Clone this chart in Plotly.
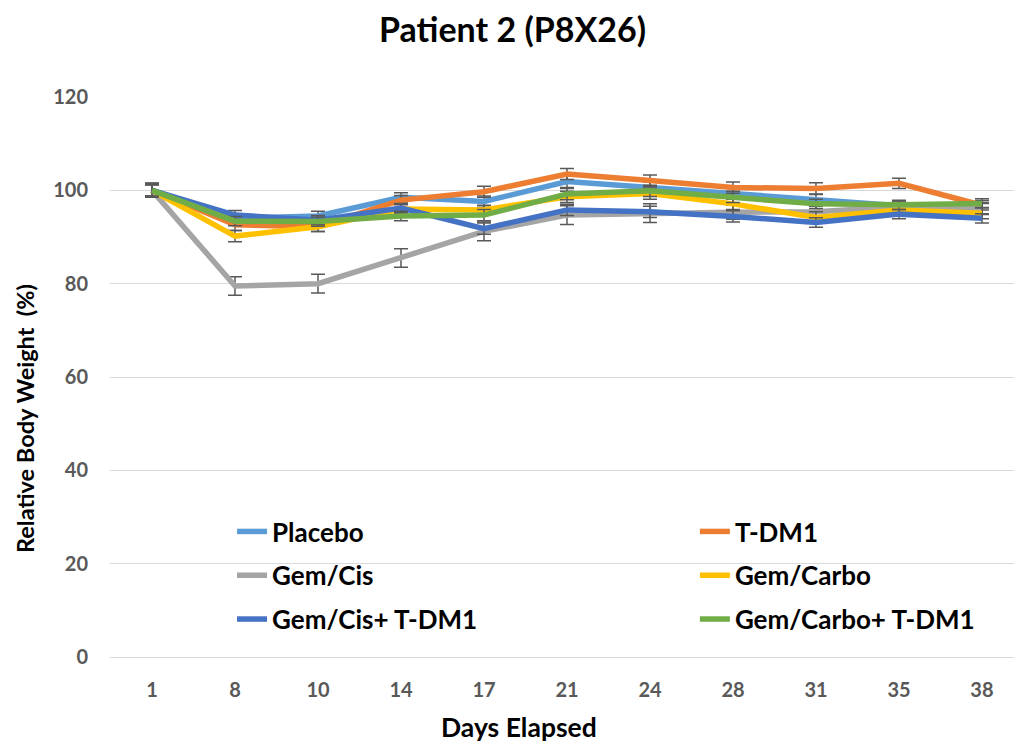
import plotly.graph_objects as go

days = ["1", "8", "10", "14", "17", "21", "24", "28", "31", "35", "38"]

placebo     = [100.0, 94.0, 94.5, 98.5, 97.6, 101.9, 100.6, 99.3, 97.9, 96.7, 96.2]
tdm1        = [100.0, 92.6, 92.2, 97.9, 99.7, 103.5, 102.1, 100.6, 100.4, 101.5, 96.8]
gemcis      = [100.0, 79.5, 80.0, 85.5, 91.2, 94.7, 95.1, 95.3, 95.4, 96.5, 96.0]
gemcarbo    = [100.0, 90.2, 92.2, 96.0, 95.8, 98.6, 99.3, 97.1, 94.2, 95.8, 95.1]
gemcis_tdm1 = [100.0, 94.7, 93.6, 96.2, 91.8, 95.8, 95.4, 94.4, 93.1, 94.9, 94.0]
gemcarbo_tdm1 = [100.0, 93.4, 93.3, 94.5, 94.7, 99.2, 99.9, 98.6, 97.1, 96.9, 97.2]

err_placebo = [1.2, 1.0, 1.0, 1.0, 1.2, 1.3, 1.2, 1.2, 1.2, 1.0, 1.2]
err_tdm1 = [1.5, 1.2, 1.0, 1.0, 1.2, 1.2, 1.2, 1.2, 1.2, 1.1, 1.0]
err_gemcis = [1.5, 2.0, 2.0, 2.0, 2.0, 2.0, 2.0, 1.5, 1.2, 1.2, 1.2]
err_gemcarbo = [1.5, 1.2, 1.0, 1.0, 1.0, 1.2, 1.2, 1.2, 1.2, 1.2, 1.2]
err_gemcis_tdm1 = [1.2, 1.0, 1.0, 1.0, 1.2, 1.2, 1.2, 1.2, 1.0, 1.0, 1.0]
err_gemcarbo_tdm1 = [1.2, 1.0, 1.0, 1.0, 1.2, 1.2, 1.2, 1.2, 1.0, 1.0, 1.0]

names = ["Placebo", "T-DM1", "Gem/Cis", "Gem/Carbo", "Gem/Cis+ T-DM1", "Gem/Carbo+ T-DM1"]
series = [placebo, tdm1, gemcis, gemcarbo, gemcis_tdm1, gemcarbo_tdm1]
errors = [err_placebo, err_tdm1, err_gemcis, err_gemcarbo, err_gemcis_tdm1, err_gemcarbo_tdm1]
colors = ["#5B9BD5", "#ED7D31", "#A5A5A5", "#FFC000", "#4472C4", "#70AD47"]
legends = ["legend", "legend2", "legend", "legend2", "legend", "legend2"]

title_text = "Patient 2 (P8X26)"
x_title = "Days Elapsed"
y_title = "Relative Body Weight  (%)"

FONT = "Lato"

fig = go.Figure()
for n, s, e, c, lg in zip(names, series, errors, colors, legends):
    fig.add_trace(go.Scatter(
        x=days, y=s, name=n, mode="lines",
        line=dict(color=c, width=5.5),
        error_y=dict(type="data", array=e, visible=True, color="#595959",
                     thickness=1.5, width=7),
        legend=lg, legendgroup=n,
    ))

legend_common = dict(
    bgcolor="rgba(0,0,0,0)", font=dict(family=FONT, size=26, color="black", weight="bold"),
    tracegroupgap=7, orientation="v", xanchor="left", yanchor="top",
    itemwidth=30,
)

fig.update_layout(
    width=1014, height=744,
    margin=dict(l=110, r=0, t=97, b=87),
    paper_bgcolor="white", plot_bgcolor="white",
    showlegend=True,
    legend=dict(x=0.135, y=0.266, **legend_common),
    legend2=dict(x=0.647, y=0.266, **legend_common),
    xaxis=dict(
        type="category", range=[-0.506, 10.386],
        showgrid=False, zeroline=False, showline=False, ticks="",
        tickfont=dict(family=FONT, size=20, color="#595959", weight="bold"),
        ticklabelstandoff=19,
    ),
    yaxis=dict(
        range=[0, 120], dtick=20, showgrid=True, gridcolor="#D9D9D9", gridwidth=1.3,
        zeroline=True, zerolinecolor="#D9D9D9", zerolinewidth=1.3,
        showline=False, ticks="",
        tickfont=dict(family=FONT, size=20, color="#595959", weight="bold"),
        ticklabelstandoff=21,
    ),
    annotations=[
        dict(text="<b>" + title_text + "</b>", xref="paper", yref="paper",
             x=0.4447, y=1.123, xanchor="center", yanchor="middle", showarrow=False,
             font=dict(family=FONT, size=34, color="black")),
        dict(text="<b>" + x_title + "</b>", xref="paper", yref="paper",
             x=0.4524, y=-0.125, xanchor="center", yanchor="middle", showarrow=False,
             font=dict(family=FONT, size=26.5, color="black")),
        dict(text="<b>" + y_title + "</b>", xref="paper", yref="paper",
             x=-0.094, y=0.425, xanchor="center", yanchor="middle", showarrow=False,
             textangle=-90, font=dict(family=FONT, size=23.5, color="black")),
    ],
)

fig.write_html("out.html", config={"displayModeBar": False},
               post_script="document.body.style.margin='0px';")
